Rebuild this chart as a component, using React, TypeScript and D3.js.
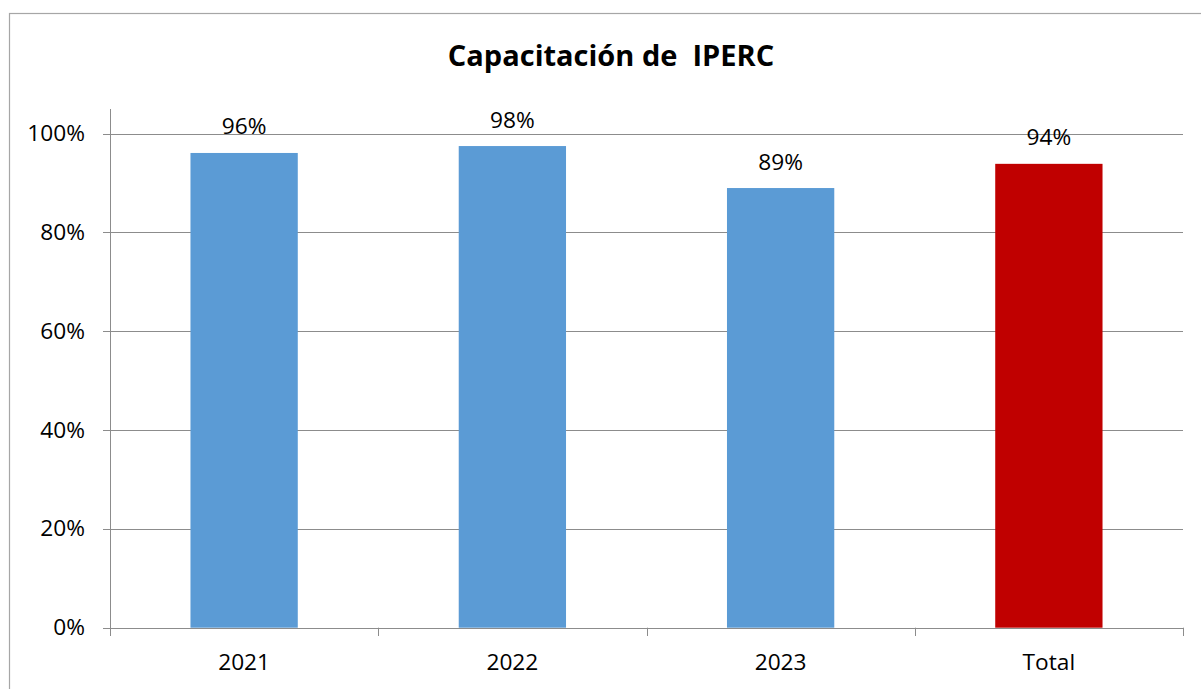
import React from "react";
import * as d3 from "d3";

const categories = ["2021", "2022", "2023", "Total"];
const values = [0.961, 0.975, 0.89, 0.939];
const labels = ["96%", "98%", "89%", "94%"];
const colors = ["#5B9BD5", "#5B9BD5", "#5B9BD5", "#C00000"];
const yTicks = [0, 0.2, 0.4, 0.6, 0.8, 1.0];
const title = "Capacitación de  IPERC";

const W = 1201;
const H = 689;
const left = 110;
const right = 1183;
const top = 133.7;
const bottom = 627.7;
const FONT = "'Open Sans', 'Liberation Sans', sans-serif";
const FS = 22.7;

export default function App() {
  const x = d3.scaleBand<string>().domain(categories).range([left, right]).padding(0);
  const y = d3.scaleLinear().domain([0, 1]).range([bottom, top]);
  const bw = x.bandwidth() * 0.4;
  const grid = "#8c8c8c";
  const boundaries = categories.map((c) => x(c) as number).concat([right]);

  return (
    <svg
      width={W}
      height={H}
      style={{ position: "absolute", left: 0, top: 0, background: "#fff" }}
      fontFamily={FONT}
    >
      <rect x={0} y={0} width={W} height={H} fill="#fff" />
      <rect x={9.5} y={13.5} width={1210} height={700} fill="none" stroke="#a6a6a6" strokeWidth={1.2} />
      <text
        x={611}
        y={66}
        textAnchor="middle"
        fontSize={29}
        fontWeight="bold"
        fill="#000"
        style={{ whiteSpace: "pre" }}
      >
        {title}
      </text>
      {yTicks.map((t) => (
        <g key={t}>
          <line x1={103} x2={right} y1={Math.round(y(t)) + 0.5} y2={Math.round(y(t)) + 0.5} stroke={grid} strokeWidth={1} />
          <text x={85} y={y(t) + 7.5} textAnchor="end" fontSize={FS} fill="#000">
            {d3.format(".0%")(t)}
          </text>
        </g>
      ))}
      <line x1={110.5} x2={110.5} y1={109} y2={636} stroke={grid} strokeWidth={1} />
      {boundaries.map((b, i) => (
        <line key={i} x1={Math.round(b) + 0.5} x2={Math.round(b) + 0.5} y1={bottom} y2={636} stroke={grid} strokeWidth={1} />
      ))}
      {categories.map((c, i) => {
        const cx = (x(c) as number) + x.bandwidth() / 2;
        return (
          <g key={c}>
            <rect x={cx - bw / 2} y={y(values[i])} width={bw} height={bottom - y(values[i])} fill={colors[i]} />
            <text x={cx} y={y(values[i]) - 18.5} textAnchor="middle" fontSize={FS} fill="#000">
              {labels[i]}
            </text>
            <text x={cx} y={670} textAnchor="middle" fontSize={FS} fill="#000">
              {c}
            </text>
          </g>
        );
      })}
    </svg>
  );
}
